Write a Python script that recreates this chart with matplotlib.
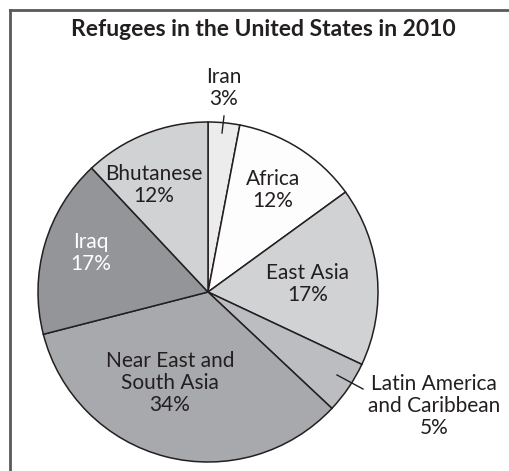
import matplotlib
matplotlib.use("Agg")
import matplotlib.pyplot as plt
from matplotlib.lines import Line2D

# data, clockwise from the top
regions = ['Iran', 'Africa', 'East Asia', 'Latin America\nand Caribbean',
           'Near East and\nSouth Asia', 'Iraq', 'Bhutanese']
shares = [3, 12, 17, 5, 34, 17, 12]
colors = ['#ececed', '#fdfdfd', '#d1d2d4', '#bcbdc0', '#a8a9ac', '#949598', '#d1d2d4']
text_colors = ['#231f20', '#231f20', '#231f20', '#231f20', '#231f20', '#ffffff', '#231f20']

W, H = 509, 471
# label centres in pixel coords (x, y from top)
label_pos = [(224, 88), (273, 190), (308, 284), (434, 406),
             (170, 383), (91, 253), (154, 185)]

plt.rcParams['font.family'] = ['Lato', 'DejaVu Sans']

fig = plt.figure(figsize=(W / 100, H / 100), dpi=100)
ax = fig.add_axes([0, 0, 1, 1])

ax.pie(shares, startangle=90, counterclock=False, colors=colors,
       center=(208, H - 292), radius=170,
       wedgeprops=dict(edgecolor='#231f20', linewidth=1.1))

ax.set_xlim(0, W)
ax.set_ylim(0, H)
ax.set_aspect('auto')
ax.axis('off')

for name, pct, (x, y), tc in zip(regions, shares, label_pos, text_colors):
    ax.text(x, H - y, f'{name}\n{pct}%', ha='center', va='center',
            fontsize=15, color=tc, linespacing=1.15)

# leader lines for the small slices
ax.plot([224, 222], [H - 116, H - 133], color='#231f20', lw=1)
ax.plot([337, 363], [H - 375, H - 389], color='#231f20', lw=1)

ax.text(263, H - 29, 'Refugees in the United States in 2010', ha='center',
        va='center', fontsize=16.5, fontweight='bold', color='#231f20')

# frame around the chart
fig.add_artist(Line2D([10 / W, 10 / W], [0, 1 - 10 / H], color='#58595b', lw=2))
fig.add_artist(Line2D([10 / W, 1], [1 - 10 / H, 1 - 10 / H], color='#58595b', lw=2))

fig.savefig('out.png', dpi=100)
